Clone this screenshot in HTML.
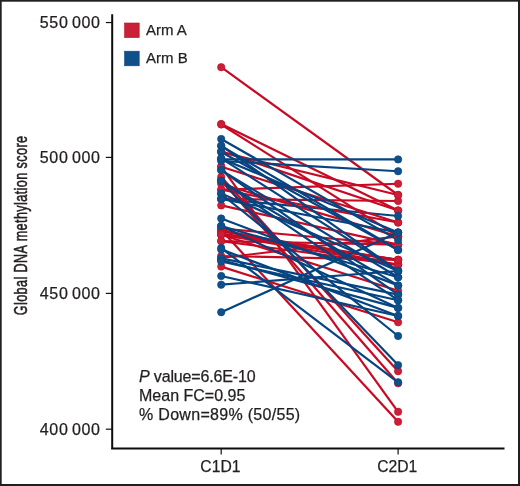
<!DOCTYPE html>
<html><head><meta charset="utf-8"><style>
html,body{margin:0;padding:0;background:#fff;}
svg{display:block;will-change:transform;}
text{font-family:"Liberation Sans",sans-serif;fill:#231F20;stroke:#231F20;stroke-width:0.25px;}
</style></head><body>
<svg width="520" height="486" viewBox="0 0 520 486">
<rect x="0" y="0" width="520" height="486" fill="#231F20"/>
<rect x="1.7" y="1.7" width="516.3" height="482.3" fill="#fff"/>

<path d="M112.2 14.2 V449.4 M111.1 448.4 H504.5" stroke="#0c0c0c" stroke-width="2" fill="none"/>
<path d="M105.8 22.55 H112" stroke="#111" stroke-width="1.2"/>
<path d="M105.8 157.4 H112" stroke="#111" stroke-width="1.2"/>
<path d="M105.8 293.4 H112" stroke="#111" stroke-width="1.2"/>
<path d="M105.8 429.2 H112" stroke="#111" stroke-width="1.2"/>
<path d="M221.2 449 V454.6" stroke="#111" stroke-width="1.2"/>
<path d="M398.1 449 V454.6" stroke="#111" stroke-width="1.2"/>
<text x="100.7" y="27.9" font-size="16" text-anchor="end" letter-spacing="0.68" word-spacing="-1.7">550 000</text>
<text x="100.7" y="162.7" font-size="16" text-anchor="end" letter-spacing="0.68" word-spacing="-1.7">500 000</text>
<text x="100.7" y="298.7" font-size="16" text-anchor="end" letter-spacing="0.68" word-spacing="-1.7">450 000</text>
<text x="100.7" y="434.5" font-size="16" text-anchor="end" letter-spacing="0.68" word-spacing="-1.7">400 000</text>
<text x="220.39999999999998" y="472" font-size="15.7" text-anchor="middle">C1D1</text>
<text x="397.3" y="472" font-size="15.7" text-anchor="middle">C2D1</text>
<text transform="translate(27.3,225.4) rotate(-90) scale(0.67,1)" font-size="18.8" letter-spacing="0.62" style="stroke-width:0.55px" text-anchor="middle">Global DNA methylation score</text>
<rect x="124.6" y="23" width="14.6" height="14.6" fill="#C91F37" stroke="#C70A24" stroke-width="0.6"/>
<rect x="124.6" y="51.2" width="14.6" height="14.6" fill="#10508A" stroke="#064480" stroke-width="0.6"/>
<text x="146" y="35" font-size="15">Arm A</text>
<text x="146" y="63" font-size="15">Arm B</text>
<text x="139" y="381.7" font-size="16" letter-spacing="-0.15"><tspan font-style="italic">P</tspan> value=6.6E-10</text>
<text x="139" y="400.8" font-size="16">Mean FC=0.95</text>
<text x="139" y="420.4" font-size="16" letter-spacing="0.3">% Down=89% (50/55)</text>
<line x1="221.2" y1="199" x2="398.1" y2="216" stroke="#064480" stroke-width="2.2"/>
<line x1="221.2" y1="67.2" x2="398.1" y2="195" stroke="#C70A24" stroke-width="2.2"/>
<line x1="221.2" y1="124" x2="398.1" y2="210.5" stroke="#C70A24" stroke-width="2.2"/>
<line x1="221.2" y1="124.5" x2="398.1" y2="236.4" stroke="#C70A24" stroke-width="2.2"/>
<line x1="221.2" y1="189.7" x2="398.1" y2="183.75" stroke="#C70A24" stroke-width="2.2"/>
<line x1="221.2" y1="151.3" x2="398.1" y2="210.5" stroke="#C70A24" stroke-width="2.2"/>
<line x1="221.2" y1="166.7" x2="398.1" y2="411.8" stroke="#C70A24" stroke-width="2.2"/>
<line x1="221.2" y1="230" x2="398.1" y2="421.8" stroke="#C70A24" stroke-width="2.2"/>
<line x1="221.2" y1="180" x2="398.1" y2="383.3" stroke="#C70A24" stroke-width="2.2"/>
<line x1="221.2" y1="177" x2="398.1" y2="371.2" stroke="#C70A24" stroke-width="2.2"/>
<line x1="221.2" y1="266.6" x2="398.1" y2="322.3" stroke="#C70A24" stroke-width="2.2"/>
<line x1="221.2" y1="199" x2="398.1" y2="201" stroke="#C70A24" stroke-width="2.2"/>
<line x1="221.2" y1="166.7" x2="398.1" y2="222.5" stroke="#C70A24" stroke-width="2.2"/>
<line x1="221.2" y1="258" x2="398.1" y2="236.4" stroke="#C70A24" stroke-width="2.2"/>
<line x1="221.2" y1="228.5" x2="398.1" y2="244.6" stroke="#C70A24" stroke-width="2.2"/>
<line x1="221.2" y1="231.5" x2="398.1" y2="259.9" stroke="#C70A24" stroke-width="2.2"/>
<line x1="221.2" y1="234.7" x2="398.1" y2="259.9" stroke="#C70A24" stroke-width="2.2"/>
<line x1="221.2" y1="230" x2="398.1" y2="264.8" stroke="#C70A24" stroke-width="2.2"/>
<line x1="221.2" y1="234.7" x2="398.1" y2="264.8" stroke="#C70A24" stroke-width="2.2"/>
<line x1="221.2" y1="241.1" x2="398.1" y2="264.8" stroke="#C70A24" stroke-width="2.2"/>
<line x1="221.2" y1="233.5" x2="398.1" y2="259.9" stroke="#C70A24" stroke-width="2.2"/>
<line x1="221.2" y1="256" x2="398.1" y2="259.9" stroke="#C70A24" stroke-width="2.2"/>
<line x1="221.2" y1="234.7" x2="398.1" y2="290.7" stroke="#C70A24" stroke-width="2.2"/>
<line x1="221.2" y1="205.4" x2="398.1" y2="244.6" stroke="#C70A24" stroke-width="2.2"/>
<line x1="221.2" y1="184" x2="398.1" y2="236.4" stroke="#C70A24" stroke-width="2.2"/>
<line x1="221.2" y1="152" x2="398.1" y2="195" stroke="#C70A24" stroke-width="2.2"/>
<line x1="221.2" y1="189.7" x2="398.1" y2="222.5" stroke="#C70A24" stroke-width="2.2"/>
<line x1="221.2" y1="241.1" x2="398.1" y2="244.6" stroke="#C70A24" stroke-width="2.2"/>
<line x1="221.2" y1="159.3" x2="398.1" y2="159.4" stroke="#064480" stroke-width="2.2"/>
<line x1="221.2" y1="161" x2="398.1" y2="171.25" stroke="#064480" stroke-width="2.2"/>
<line x1="221.2" y1="248" x2="398.1" y2="382.3" stroke="#064480" stroke-width="2.2"/>
<line x1="221.2" y1="181" x2="398.1" y2="365.1" stroke="#064480" stroke-width="2.2"/>
<line x1="221.2" y1="194" x2="398.1" y2="336" stroke="#064480" stroke-width="2.2"/>
<line x1="221.2" y1="276" x2="398.1" y2="316" stroke="#064480" stroke-width="2.2"/>
<line x1="221.2" y1="284.7" x2="398.1" y2="271" stroke="#064480" stroke-width="2.2"/>
<line x1="221.2" y1="312.2" x2="398.1" y2="232.5" stroke="#064480" stroke-width="2.2"/>
<line x1="221.2" y1="139" x2="398.1" y2="240.1" stroke="#064480" stroke-width="2.2"/>
<line x1="221.2" y1="146" x2="398.1" y2="250" stroke="#064480" stroke-width="2.2"/>
<line x1="221.2" y1="152" x2="398.1" y2="250" stroke="#064480" stroke-width="2.2"/>
<line x1="221.2" y1="260" x2="398.1" y2="307.9" stroke="#064480" stroke-width="2.2"/>
<line x1="221.2" y1="158.4" x2="398.1" y2="232.5" stroke="#064480" stroke-width="2.2"/>
<line x1="221.2" y1="170.1" x2="398.1" y2="277.3" stroke="#064480" stroke-width="2.2"/>
<line x1="221.2" y1="170.1" x2="398.1" y2="294.6" stroke="#064480" stroke-width="2.2"/>
<line x1="221.2" y1="180.9" x2="398.1" y2="300.2" stroke="#064480" stroke-width="2.2"/>
<line x1="221.2" y1="193.4" x2="398.1" y2="271" stroke="#064480" stroke-width="2.2"/>
<line x1="221.2" y1="226" x2="398.1" y2="307.9" stroke="#064480" stroke-width="2.2"/>
<line x1="221.2" y1="249.4" x2="398.1" y2="316" stroke="#064480" stroke-width="2.2"/>
<line x1="221.2" y1="258.3" x2="398.1" y2="294.6" stroke="#064480" stroke-width="2.2"/>
<line x1="221.2" y1="261.4" x2="398.1" y2="300.2" stroke="#064480" stroke-width="2.2"/>
<line x1="221.2" y1="180.9" x2="398.1" y2="285.4" stroke="#064480" stroke-width="2.2"/>
<line x1="221.2" y1="218.5" x2="398.1" y2="285.4" stroke="#064480" stroke-width="2.2"/>
<line x1="221.2" y1="226" x2="398.1" y2="277.3" stroke="#064480" stroke-width="2.2"/>
<line x1="221.2" y1="145.7" x2="398.1" y2="271" stroke="#064480" stroke-width="2.2"/>
<line x1="221.2" y1="158.4" x2="398.1" y2="271" stroke="#064480" stroke-width="2.2"/>
<line x1="221.2" y1="199" x2="398.1" y2="232.5" stroke="#064480" stroke-width="2.2"/>
<circle cx="221.2" cy="67.2" r="3.7" fill="#C91F37" stroke="#C70A24" stroke-width="0.6"/>
<circle cx="398.1" cy="195" r="3.7" fill="#C91F37" stroke="#C70A24" stroke-width="0.6"/>
<circle cx="221.2" cy="124" r="3.7" fill="#C91F37" stroke="#C70A24" stroke-width="0.6"/>
<circle cx="398.1" cy="210.5" r="3.7" fill="#C91F37" stroke="#C70A24" stroke-width="0.6"/>
<circle cx="221.2" cy="124.5" r="3.7" fill="#C91F37" stroke="#C70A24" stroke-width="0.6"/>
<circle cx="398.1" cy="236.4" r="3.7" fill="#C91F37" stroke="#C70A24" stroke-width="0.6"/>
<circle cx="221.2" cy="189.7" r="3.7" fill="#C91F37" stroke="#C70A24" stroke-width="0.6"/>
<circle cx="398.1" cy="183.75" r="3.7" fill="#C91F37" stroke="#C70A24" stroke-width="0.6"/>
<circle cx="221.2" cy="151.3" r="3.7" fill="#C91F37" stroke="#C70A24" stroke-width="0.6"/>
<circle cx="398.1" cy="210.5" r="3.7" fill="#C91F37" stroke="#C70A24" stroke-width="0.6"/>
<circle cx="221.2" cy="166.7" r="3.7" fill="#C91F37" stroke="#C70A24" stroke-width="0.6"/>
<circle cx="398.1" cy="411.8" r="3.7" fill="#C91F37" stroke="#C70A24" stroke-width="0.6"/>
<circle cx="221.2" cy="230" r="3.7" fill="#C91F37" stroke="#C70A24" stroke-width="0.6"/>
<circle cx="398.1" cy="421.8" r="3.7" fill="#C91F37" stroke="#C70A24" stroke-width="0.6"/>
<circle cx="221.2" cy="180" r="3.7" fill="#C91F37" stroke="#C70A24" stroke-width="0.6"/>
<circle cx="398.1" cy="383.3" r="3.7" fill="#C91F37" stroke="#C70A24" stroke-width="0.6"/>
<circle cx="221.2" cy="177" r="3.7" fill="#C91F37" stroke="#C70A24" stroke-width="0.6"/>
<circle cx="398.1" cy="371.2" r="3.7" fill="#C91F37" stroke="#C70A24" stroke-width="0.6"/>
<circle cx="221.2" cy="266.6" r="3.7" fill="#C91F37" stroke="#C70A24" stroke-width="0.6"/>
<circle cx="398.1" cy="322.3" r="3.7" fill="#C91F37" stroke="#C70A24" stroke-width="0.6"/>
<circle cx="221.2" cy="199" r="3.7" fill="#C91F37" stroke="#C70A24" stroke-width="0.6"/>
<circle cx="398.1" cy="201" r="3.7" fill="#C91F37" stroke="#C70A24" stroke-width="0.6"/>
<circle cx="221.2" cy="166.7" r="3.7" fill="#C91F37" stroke="#C70A24" stroke-width="0.6"/>
<circle cx="398.1" cy="222.5" r="3.7" fill="#C91F37" stroke="#C70A24" stroke-width="0.6"/>
<circle cx="221.2" cy="258" r="3.7" fill="#C91F37" stroke="#C70A24" stroke-width="0.6"/>
<circle cx="398.1" cy="236.4" r="3.7" fill="#C91F37" stroke="#C70A24" stroke-width="0.6"/>
<circle cx="221.2" cy="228.5" r="3.7" fill="#C91F37" stroke="#C70A24" stroke-width="0.6"/>
<circle cx="398.1" cy="244.6" r="3.7" fill="#C91F37" stroke="#C70A24" stroke-width="0.6"/>
<circle cx="221.2" cy="231.5" r="3.7" fill="#C91F37" stroke="#C70A24" stroke-width="0.6"/>
<circle cx="398.1" cy="259.9" r="3.7" fill="#C91F37" stroke="#C70A24" stroke-width="0.6"/>
<circle cx="221.2" cy="234.7" r="3.7" fill="#C91F37" stroke="#C70A24" stroke-width="0.6"/>
<circle cx="398.1" cy="259.9" r="3.7" fill="#C91F37" stroke="#C70A24" stroke-width="0.6"/>
<circle cx="221.2" cy="230" r="3.7" fill="#C91F37" stroke="#C70A24" stroke-width="0.6"/>
<circle cx="398.1" cy="264.8" r="3.7" fill="#C91F37" stroke="#C70A24" stroke-width="0.6"/>
<circle cx="221.2" cy="234.7" r="3.7" fill="#C91F37" stroke="#C70A24" stroke-width="0.6"/>
<circle cx="398.1" cy="264.8" r="3.7" fill="#C91F37" stroke="#C70A24" stroke-width="0.6"/>
<circle cx="221.2" cy="241.1" r="3.7" fill="#C91F37" stroke="#C70A24" stroke-width="0.6"/>
<circle cx="398.1" cy="264.8" r="3.7" fill="#C91F37" stroke="#C70A24" stroke-width="0.6"/>
<circle cx="221.2" cy="233.5" r="3.7" fill="#C91F37" stroke="#C70A24" stroke-width="0.6"/>
<circle cx="398.1" cy="259.9" r="3.7" fill="#C91F37" stroke="#C70A24" stroke-width="0.6"/>
<circle cx="221.2" cy="256" r="3.7" fill="#C91F37" stroke="#C70A24" stroke-width="0.6"/>
<circle cx="398.1" cy="259.9" r="3.7" fill="#C91F37" stroke="#C70A24" stroke-width="0.6"/>
<circle cx="221.2" cy="234.7" r="3.7" fill="#C91F37" stroke="#C70A24" stroke-width="0.6"/>
<circle cx="398.1" cy="290.7" r="3.7" fill="#C91F37" stroke="#C70A24" stroke-width="0.6"/>
<circle cx="221.2" cy="205.4" r="3.7" fill="#C91F37" stroke="#C70A24" stroke-width="0.6"/>
<circle cx="398.1" cy="244.6" r="3.7" fill="#C91F37" stroke="#C70A24" stroke-width="0.6"/>
<circle cx="221.2" cy="184" r="3.7" fill="#C91F37" stroke="#C70A24" stroke-width="0.6"/>
<circle cx="398.1" cy="236.4" r="3.7" fill="#C91F37" stroke="#C70A24" stroke-width="0.6"/>
<circle cx="221.2" cy="152" r="3.7" fill="#C91F37" stroke="#C70A24" stroke-width="0.6"/>
<circle cx="398.1" cy="195" r="3.7" fill="#C91F37" stroke="#C70A24" stroke-width="0.6"/>
<circle cx="221.2" cy="189.7" r="3.7" fill="#C91F37" stroke="#C70A24" stroke-width="0.6"/>
<circle cx="398.1" cy="222.5" r="3.7" fill="#C91F37" stroke="#C70A24" stroke-width="0.6"/>
<circle cx="221.2" cy="241.1" r="3.7" fill="#C91F37" stroke="#C70A24" stroke-width="0.6"/>
<circle cx="398.1" cy="244.6" r="3.7" fill="#C91F37" stroke="#C70A24" stroke-width="0.6"/>
<circle cx="221.2" cy="199" r="3.7" fill="#10508A" stroke="#064480" stroke-width="0.6"/>
<circle cx="398.1" cy="216" r="3.7" fill="#10508A" stroke="#064480" stroke-width="0.6"/>
<circle cx="221.2" cy="159.3" r="3.7" fill="#10508A" stroke="#064480" stroke-width="0.6"/>
<circle cx="398.1" cy="159.4" r="3.7" fill="#10508A" stroke="#064480" stroke-width="0.6"/>
<circle cx="221.2" cy="161" r="3.7" fill="#10508A" stroke="#064480" stroke-width="0.6"/>
<circle cx="398.1" cy="171.25" r="3.7" fill="#10508A" stroke="#064480" stroke-width="0.6"/>
<circle cx="221.2" cy="248" r="3.7" fill="#10508A" stroke="#064480" stroke-width="0.6"/>
<circle cx="398.1" cy="382.3" r="3.7" fill="#10508A" stroke="#064480" stroke-width="0.6"/>
<circle cx="221.2" cy="181" r="3.7" fill="#10508A" stroke="#064480" stroke-width="0.6"/>
<circle cx="398.1" cy="365.1" r="3.7" fill="#10508A" stroke="#064480" stroke-width="0.6"/>
<circle cx="221.2" cy="194" r="3.7" fill="#10508A" stroke="#064480" stroke-width="0.6"/>
<circle cx="398.1" cy="336" r="3.7" fill="#10508A" stroke="#064480" stroke-width="0.6"/>
<circle cx="221.2" cy="276" r="3.7" fill="#10508A" stroke="#064480" stroke-width="0.6"/>
<circle cx="398.1" cy="316" r="3.7" fill="#10508A" stroke="#064480" stroke-width="0.6"/>
<circle cx="221.2" cy="284.7" r="3.7" fill="#10508A" stroke="#064480" stroke-width="0.6"/>
<circle cx="398.1" cy="271" r="3.7" fill="#10508A" stroke="#064480" stroke-width="0.6"/>
<circle cx="221.2" cy="312.2" r="3.7" fill="#10508A" stroke="#064480" stroke-width="0.6"/>
<circle cx="398.1" cy="232.5" r="3.7" fill="#10508A" stroke="#064480" stroke-width="0.6"/>
<circle cx="221.2" cy="139" r="3.7" fill="#10508A" stroke="#064480" stroke-width="0.6"/>
<circle cx="398.1" cy="240.1" r="3.7" fill="#10508A" stroke="#064480" stroke-width="0.6"/>
<circle cx="221.2" cy="146" r="3.7" fill="#10508A" stroke="#064480" stroke-width="0.6"/>
<circle cx="398.1" cy="250" r="3.7" fill="#10508A" stroke="#064480" stroke-width="0.6"/>
<circle cx="221.2" cy="152" r="3.7" fill="#10508A" stroke="#064480" stroke-width="0.6"/>
<circle cx="398.1" cy="250" r="3.7" fill="#10508A" stroke="#064480" stroke-width="0.6"/>
<circle cx="221.2" cy="260" r="3.7" fill="#10508A" stroke="#064480" stroke-width="0.6"/>
<circle cx="398.1" cy="307.9" r="3.7" fill="#10508A" stroke="#064480" stroke-width="0.6"/>
<circle cx="221.2" cy="158.4" r="3.7" fill="#10508A" stroke="#064480" stroke-width="0.6"/>
<circle cx="398.1" cy="232.5" r="3.7" fill="#10508A" stroke="#064480" stroke-width="0.6"/>
<circle cx="221.2" cy="170.1" r="3.7" fill="#10508A" stroke="#064480" stroke-width="0.6"/>
<circle cx="398.1" cy="277.3" r="3.7" fill="#10508A" stroke="#064480" stroke-width="0.6"/>
<circle cx="221.2" cy="170.1" r="3.7" fill="#10508A" stroke="#064480" stroke-width="0.6"/>
<circle cx="398.1" cy="294.6" r="3.7" fill="#10508A" stroke="#064480" stroke-width="0.6"/>
<circle cx="221.2" cy="180.9" r="3.7" fill="#10508A" stroke="#064480" stroke-width="0.6"/>
<circle cx="398.1" cy="300.2" r="3.7" fill="#10508A" stroke="#064480" stroke-width="0.6"/>
<circle cx="221.2" cy="193.4" r="3.7" fill="#10508A" stroke="#064480" stroke-width="0.6"/>
<circle cx="398.1" cy="271" r="3.7" fill="#10508A" stroke="#064480" stroke-width="0.6"/>
<circle cx="221.2" cy="226" r="3.7" fill="#10508A" stroke="#064480" stroke-width="0.6"/>
<circle cx="398.1" cy="307.9" r="3.7" fill="#10508A" stroke="#064480" stroke-width="0.6"/>
<circle cx="221.2" cy="249.4" r="3.7" fill="#10508A" stroke="#064480" stroke-width="0.6"/>
<circle cx="398.1" cy="316" r="3.7" fill="#10508A" stroke="#064480" stroke-width="0.6"/>
<circle cx="221.2" cy="258.3" r="3.7" fill="#10508A" stroke="#064480" stroke-width="0.6"/>
<circle cx="398.1" cy="294.6" r="3.7" fill="#10508A" stroke="#064480" stroke-width="0.6"/>
<circle cx="221.2" cy="261.4" r="3.7" fill="#10508A" stroke="#064480" stroke-width="0.6"/>
<circle cx="398.1" cy="300.2" r="3.7" fill="#10508A" stroke="#064480" stroke-width="0.6"/>
<circle cx="221.2" cy="180.9" r="3.7" fill="#10508A" stroke="#064480" stroke-width="0.6"/>
<circle cx="398.1" cy="285.4" r="3.7" fill="#10508A" stroke="#064480" stroke-width="0.6"/>
<circle cx="221.2" cy="218.5" r="3.7" fill="#10508A" stroke="#064480" stroke-width="0.6"/>
<circle cx="398.1" cy="285.4" r="3.7" fill="#10508A" stroke="#064480" stroke-width="0.6"/>
<circle cx="221.2" cy="226" r="3.7" fill="#10508A" stroke="#064480" stroke-width="0.6"/>
<circle cx="398.1" cy="277.3" r="3.7" fill="#10508A" stroke="#064480" stroke-width="0.6"/>
<circle cx="221.2" cy="145.7" r="3.7" fill="#10508A" stroke="#064480" stroke-width="0.6"/>
<circle cx="398.1" cy="271" r="3.7" fill="#10508A" stroke="#064480" stroke-width="0.6"/>
<circle cx="221.2" cy="158.4" r="3.7" fill="#10508A" stroke="#064480" stroke-width="0.6"/>
<circle cx="398.1" cy="271" r="3.7" fill="#10508A" stroke="#064480" stroke-width="0.6"/>
<circle cx="221.2" cy="199" r="3.7" fill="#10508A" stroke="#064480" stroke-width="0.6"/>
<circle cx="398.1" cy="232.5" r="3.7" fill="#10508A" stroke="#064480" stroke-width="0.6"/>
</svg></body></html>
